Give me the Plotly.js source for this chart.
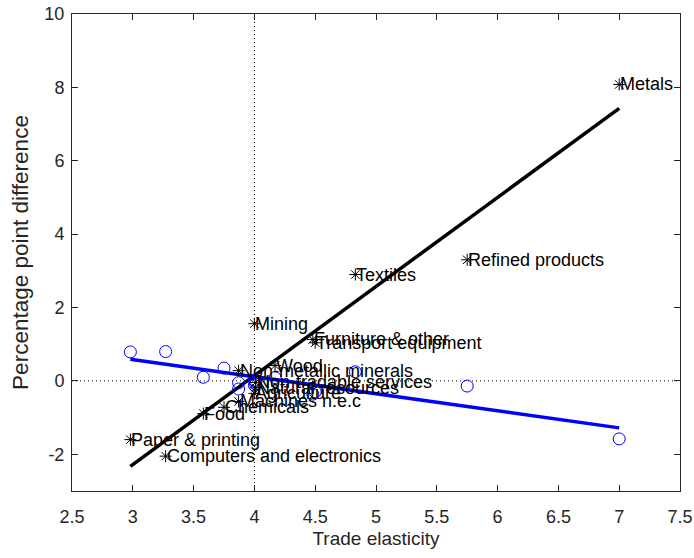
<!DOCTYPE html>
<html>
<head>
<meta charset="utf-8">
<script src="https://cdn.plot.ly/plotly-3.0.1.min.js"></script>
<style>html,body{margin:0;padding:0;background:#fff;}#chart{width:694px;height:558px;}</style>
</head>
<body>
<div id="chart"></div>
<script>
// Sector names
var sectors = ["Metals", "Refined products", "Textiles", "Mining", "Furniture & other",
  "Transport equipment", "Wood", "Non-metallic minerals", "Non-tradable services",
  "Natural resources", "Agriculture", "Machines n.e.c", "Chemicals", "Food",
  "Paper & printing", "Computers and electronics"];
// Trade elasticity per sector
var elasticity = [7.0, 5.75, 4.83, 4.0, 4.48, 4.50, 4.17, 3.87, 4.01, 4.01, 4.0, 3.87, 3.75, 3.58, 2.98, 3.27];
// Percentage point difference (black asterisks)
var diffBlack = [8.08, 3.30, 2.90, 1.56, 1.13, 1.04, 0.42, 0.28, -0.04, -0.19, -0.34, -0.56, -0.72, -0.89, -1.60, -2.05];
// Percentage point difference (blue circles)
var diffBlue = [-1.58, -0.14, 0.25, 0.02, -0.36, -0.30, 0.09, -0.05, -0.02, -0.08, -0.12, -0.22, 0.35, 0.10, 0.79, 0.80];
// Fitted lines
var fitX = [2.98, 7.0];
var fitBlack = [-2.33, 7.43];
var fitBlue = [0.59, -1.28];
// Axis ticks
var yTickVals = [-2, 0, 2, 4, 6, 8, 10];
var yTickText = ["-2", "0", "2", "4", "6", "8", "10"];

var FONT = "Liberation Sans, Arial, Helvetica, sans-serif";

var traces = [
  {x: fitX, y: fitBlack, mode: "lines", line: {color: "#000000", width: 3.5}, hoverinfo: "skip"},
  {x: fitX, y: fitBlue, mode: "lines", line: {color: "#0000ff", width: 3.5}, hoverinfo: "skip"},
  {x: elasticity, y: diffBlue, mode: "markers",
   marker: {symbol: "circle-open", size: 12, color: "#0000ff", line: {color: "#0000ff", width: 1}}},
  {x: elasticity, y: diffBlack, mode: "markers",
   marker: {symbol: "asterisk-open", size: 10, color: "#000000", line: {color: "#000000", width: 1}}}
];

var annotations = sectors.map(function (s, i) {
  return {x: elasticity[i], y: diffBlack[i], xref: "x", yref: "y", text: s,
    showarrow: false, xanchor: "left", yanchor: "middle", xshift: 0, borderpad: 0,
    font: {family: FONT, size: 18, color: "#000000"}};
});

var layout = {
  width: 694, height: 558,
  margin: {l: 72, r: 14, t: 14, b: 67},
  paper_bgcolor: "#ffffff", plot_bgcolor: "#ffffff",
  showlegend: false,
  font: {family: FONT, size: 18, color: "#262626"},
  xaxis: {
    range: [2.5, 7.5], dtick: 0.5, tick0: 2.5, ticks: "inside", ticklen: 6, tickwidth: 1,
    tickcolor: "#262626", showline: true, linecolor: "#262626", linewidth: 1, mirror: "ticks",
    showgrid: false, zeroline: false, ticklabelstandoff: 9,
    tickfont: {family: FONT, size: 18, color: "#262626"},
    title: {text: "Trade elasticity", font: {family: FONT, size: 19, color: "#262626"}, standoff: 6}
  },
  yaxis: {
    range: [-3, 10], tickmode: "array", tickvals: yTickVals, ticktext: yTickText,
    ticks: "inside", ticklen: 6, tickwidth: 1,
    tickcolor: "#262626", showline: true, linecolor: "#262626", linewidth: 1, mirror: "ticks",
    showgrid: false, zeroline: false, ticklabelstandoff: 3,
    tickfont: {family: FONT, size: 18, color: "#262626"},
    title: {text: "Percentage point difference", font: {family: FONT, size: 22.5, color: "#262626"}, standoff: 9}
  },
  shapes: [
    {type: "line", xref: "paper", yref: "y", x0: 0, x1: 1, y0: 0, y1: 0,
     line: {color: "#000000", width: 1, dash: "1px,3px"}, layer: "below"},
    {type: "line", xref: "x", yref: "paper", x0: 4, x1: 4, y0: 0, y1: 1,
     line: {color: "#000000", width: 1, dash: "1px,3px"}, layer: "below"}
  ],
  annotations: annotations
};

Plotly.newPlot("chart", traces, layout, {displayModeBar: false, staticPlot: true});
</script>
</body>
</html>
